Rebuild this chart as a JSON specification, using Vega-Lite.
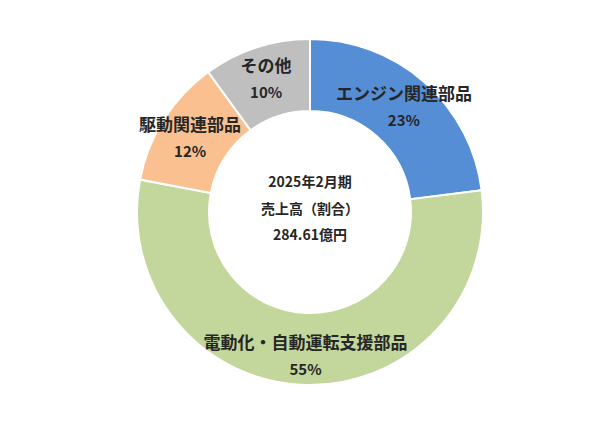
{
  "$schema": "https://vega.github.io/schema/vega-lite/v6.json",
  "description": "売上高（割合） 2025年2月期 ドーナツチャート",
  "width": 600,
  "height": 444,
  "autosize": {"type": "fit", "contains": "padding"},
  "padding": {"left": 20, "top": 0, "right": 0, "bottom": 20},
  "background": "white",
  "config": {"view": {"stroke": null}, "font": "Noto Sans CJK JP"},
  "layer": [
    {
      "data": {
        "values": [
          {"rank": 1, "segment": "エンジン関連部品", "share": 0.23},
          {"rank": 2, "segment": "電動化・自動運転支援部品", "share": 0.55},
          {"rank": 3, "segment": "駆動関連部品", "share": 0.12},
          {"rank": 4, "segment": "その他", "share": 0.10}
        ]
      },
      "encoding": {
        "theta": {"field": "share", "type": "quantitative", "stack": true},
        "order": {"field": "rank", "type": "quantitative"}
      },
      "layer": [
        {
          "mark": {"type": "arc", "innerRadius": 101, "outerRadius": 173, "stroke": "white", "strokeWidth": 2},
          "encoding": {
            "color": {
              "field": "segment",
              "type": "nominal",
              "legend": null,
              "scale": {
                "domain": ["エンジン関連部品", "電動化・自動運転支援部品", "駆動関連部品", "その他"],
                "range": ["#558ED5", "#C3D69B", "#FAC090", "#BFBFBF"]
              }
            }
          }
        },
        {
          "mark": {"type": "text", "radius": 142, "dy": -10, "fontSize": 17, "fontWeight": "bold", "fill": "#262626"},
          "encoding": {"text": {"field": "segment", "type": "nominal"}}
        },
        {
          "mark": {"type": "text", "radius": 142, "dy": 16, "fontSize": 15, "fontWeight": "bold", "fill": "#262626"},
          "encoding": {"text": {"field": "share", "type": "quantitative", "format": ".0%"}}
        }
      ]
    },
    {
      "data": {"values": [{"caption": "2025年2月期\n売上高（割合）\n284.61億円"}]},
      "mark": {"type": "text", "lineBreak": "\n", "lineHeight": 26.5, "fontSize": 14, "fontWeight": "bold", "fill": "#262626", "dy": -29},
      "encoding": {"text": {"field": "caption", "type": "nominal"}}
    }
  ]
}
